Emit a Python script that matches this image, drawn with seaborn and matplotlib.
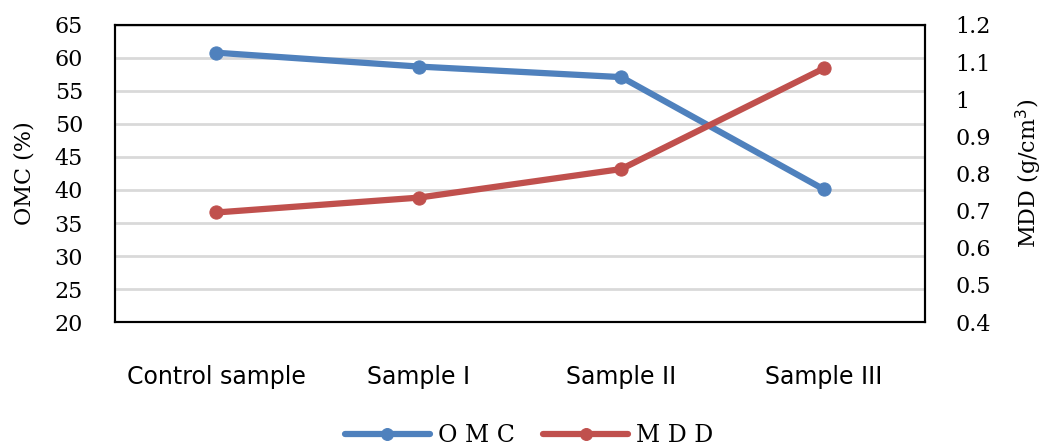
import matplotlib
matplotlib.use("Agg")
import matplotlib.pyplot as plt
import seaborn as sns
import pandas as pd

categories = ["Control sample", "Sample I", "Sample II", "Sample III"]
omc = [60.8, 58.7, 57.1, 40.1]
mdd = [0.695, 0.735, 0.812, 1.083]
left_ticks = [20, 25, 30, 35, 40, 45, 50, 55, 60, 65]
right_ticks = [0.4, 0.5, 0.6, 0.7, 0.8, 0.9, 1.0, 1.1, 1.2]
right_labels = ["0.4", "0.5", "0.6", "0.7", "0.8", "0.9", "1", "1.1", "1.2"]

sns.set_style("white")
plt.rcParams["font.family"] = ["DejaVu Serif"]
plt.rcParams["text.color"] = "black"
plt.rcParams["axes.labelcolor"] = "black"
plt.rcParams["xtick.color"] = "black"
plt.rcParams["ytick.color"] = "black"

blue = "#4F81BD"
red = "#C0504D"

df = pd.DataFrame({"cat": categories, "OMC": omc, "MDD": mdd})

fig = plt.figure(figsize=(10.48, 4.46), dpi=100)
ax = fig.add_axes([0.1097, 0.278, 0.773, 0.666])
ax2 = ax.twinx()

sns.lineplot(data=df, x="cat", y="OMC", ax=ax, color=blue, lw=4.5, marker="o",
             markersize=9.5, markeredgecolor=blue, sort=False, label="OMC", legend=False)
sns.lineplot(data=df, x="cat", y="MDD", ax=ax2, color=red, lw=4.5, marker="o",
             markersize=9.5, markeredgecolor=red, sort=False, label="MDD", legend=False)

ax.set_xlim(-0.5, 3.5)
ax.set_ylim(20, 65)
ax.set_yticks(left_ticks)
ax2.set_ylim(0.4, 1.2)
ax2.set_yticks(right_ticks)
ax2.set_yticklabels(right_labels)

ax.yaxis.grid(True, color="#D9D9D9", lw=2)
ax.set_axisbelow(True)
ax2.grid(False)

for a in (ax, ax2):
    for s in a.spines.values():
        s.set_color("black")
        s.set_linewidth(1.5)
    a.tick_params(length=0)

ax.tick_params(axis="y", labelsize=16, pad=23, labelcolor="black")
ax2.tick_params(axis="y", labelsize=16, pad=22, labelcolor="black")
ax.tick_params(axis="x", pad=31, labelcolor="black")
ax.set_xticks(range(len(categories)))
ax.set_xticklabels(categories, fontsize=17, family=["DejaVu Sans"])
ax.set_xlabel("")
ax.set_ylabel("OMC (%)", fontsize=16, labelpad=14, color="black")
ax2.set_ylabel("MDD (g/cm$^3$)", fontsize=16, labelpad=16, color="black")

h1, l1 = ax.get_legend_handles_labels()
h2, l2 = ax2.get_legend_handles_labels()
leg = fig.legend(h1 + h2, ["O M C", "M D D"], loc="lower center", bbox_to_anchor=(0.505, -0.05),
                 ncol=2, frameon=False, fontsize=17, handlelength=3.6, columnspacing=1.2,
                 handletextpad=0.35, markerscale=0.9)
for t in leg.get_texts():
    t.set_color("black")

fig.savefig("out.png", dpi=100)
